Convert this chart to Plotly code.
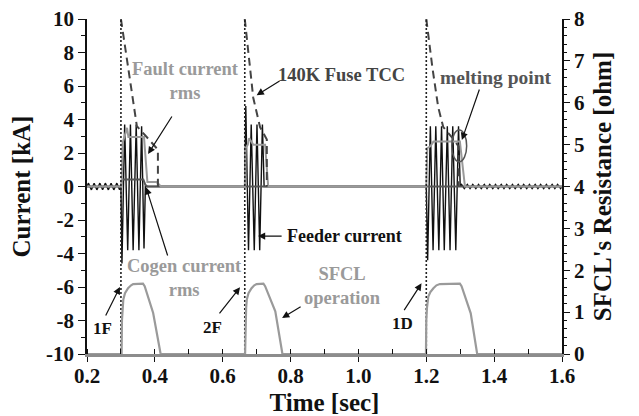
import plotly.graph_objects as go

# ---------------- data ----------------
# Feeder current [kA] (black), built from its half-cycle peaks
pre_t = [0.200, 0.204, 0.213, 0.221, 0.229, 0.238, 0.246, 0.254, 0.263, 0.271, 0.279, 0.288, 0.296]
pre_i = [0.0, 0.2, -0.2, 0.2, -0.2, 0.2, -0.2, 0.2, -0.2, 0.2, -0.2, 0.2, -0.2]

ev1_t = [0.300, 0.303, 0.311, 0.320, 0.328, 0.336, 0.345, 0.353, 0.361, 0.368, 0.372]
ev1_i = [0.0, -4.6, 3.7, -3.8, 3.7, -3.8, 3.7, -3.8, 3.6, -3.7, 0.0]

ev2_t = [0.665, 0.668, 0.676, 0.684, 0.693, 0.701, 0.709, 0.717, 0.722]
ev2_i = [0.0, 4.8, -3.8, 3.7, -3.8, 3.7, -3.8, 3.7, 0.0]

ev3_t = [1.200, 1.204, 1.212, 1.220, 1.228, 1.237, 1.245, 1.253, 1.262, 1.270, 1.278, 1.287, 1.295, 1.300]
ev3_i = [0.0, -4.4, 3.6, -3.8, 3.6, -3.8, 3.6, -3.8, 3.6, -3.8, 3.6, -3.8, 3.6, 0.0]

post_t = [1.304, 1.312, 1.321, 1.329, 1.337, 1.346, 1.354, 1.362, 1.371, 1.379, 1.387, 1.396,
          1.404, 1.412, 1.421, 1.429, 1.437, 1.446, 1.454, 1.462, 1.471, 1.479, 1.487, 1.496,
          1.504, 1.512, 1.521, 1.529, 1.537, 1.546, 1.554, 1.562, 1.571, 1.579, 1.587, 1.596, 1.600]
post_i = [0.12, -0.12, 0.12, -0.12, 0.12, -0.12, 0.12, -0.12, 0.12, -0.12, 0.12, -0.12,
          0.12, -0.12, 0.12, -0.12, 0.12, -0.12, 0.12, -0.12, 0.12, -0.12, 0.12, -0.12,
          0.12, -0.12, 0.12, -0.12, 0.12, -0.12, 0.12, -0.12, 0.12, -0.12, 0.12, -0.12, 0.0]

feeder_t = pre_t + ev1_t + ev2_t + ev3_t + post_t
feeder_i = pre_i + ev1_i + ev2_i + ev3_i + post_i

# Fault current rms [kA] (light gray)
fault_rms_t = [0.200, 0.302, 0.305, 0.318, 0.322, 0.368, 0.378, 0.405, 0.418,
               0.665, 0.668, 0.674, 0.678, 0.690, 0.725, 0.734,
               1.200, 1.203, 1.212, 1.221, 1.299, 1.314, 1.600]
fault_rms_i = [0.0, 0.0, 2.6, 3.5, 2.95, 2.95, 0.27, 0.27, 0.0,
               0.0, 2.3, 2.5, 2.88, 2.5, 2.5, 0.0,
               0.0, 2.3, 2.4, 2.68, 2.68, 0.0, 0.0]

# Cogen current rms [kA] (dark gray)
cogen_rms_t = [0.200, 0.300, 0.304, 0.366, 0.372, 0.378, 1.600]
cogen_rms_i = [0.0, 0.0, 0.42, 0.42, 0.1, 0.0, 0.0]

# 140K fuse TCC [kA] (dashed)
tcc_t = [0.300, 0.318, 0.333, 0.347, 0.365, 0.385, 0.405, 0.409, 0.409, None,
         0.665, 0.690, 0.710, 0.725, 0.730, 0.730, None,
         1.200, 1.218, 1.235, 1.250, 1.275, 1.295, 1.295]
tcc_i = [10.0, 7.5, 5.5, 3.6, 3.2, 2.75, 2.3, 2.2, 0.0, None,
         10.0, 5.3, 3.55, 2.95, 2.8, 0.0, None,
         10.0, 7.1, 4.75, 3.55, 2.95, 2.4, 0.0]

# SFCL resistance [ohm] (right axis)
sfcl_t = [0.200, 0.302, 0.303, 0.305, 0.307, 0.312, 0.321, 0.330, 0.336, 0.365, 0.370, 0.395, 0.417,
          0.666, 0.667, 0.669, 0.671, 0.676, 0.685, 0.693, 0.700, 0.720, 0.725, 0.755, 0.776,
          1.199, 1.200, 1.202, 1.206, 1.212, 1.221, 1.230, 1.240, 1.299, 1.304, 1.331, 1.350, 1.600]
sfcl_r = [0.0, 0.0, 0.8, 1.1, 1.3, 1.45, 1.57, 1.64, 1.67, 1.68, 1.62, 0.98, 0.0,
          0.0, 0.8, 1.1, 1.3, 1.45, 1.57, 1.64, 1.67, 1.68, 1.62, 1.02, 0.0,
          0.0, 0.8, 1.1, 1.37, 1.48, 1.57, 1.64, 1.67, 1.68, 1.62, 0.97, 0.0, 0.0]

# fault instants (dotted vertical markers)
fault_times = [0.300, 0.665, 1.200]

# ticks
x_tick_vals = [0.2, 0.4, 0.6, 0.8, 1.0, 1.2, 1.4, 1.6]
x_tick_text = ["0.2", "0.4", "0.6", "0.8", "1.0", "1.2", "1.4", "1.6"]
y_tick_vals = [-10, -8, -6, -4, -2, 0, 2, 4, 6, 8, 10]
y_tick_text = ["-10", "-8", "-6", "-4", "-2", "0", "2", "4", "6", "8", "10"]
y2_tick_vals = [0, 1, 2, 3, 4, 5, 6, 7, 8]
y2_tick_text = ["0", "1", "2", "3", "4", "5", "6", "7", "8"]

# ---------------- figure ----------------
FONT = "Liberation Serif"
LIGHT = "#9a9a9a"
DARK = "#555555"

fig = go.Figure()

fig.add_trace(go.Scatter(x=sfcl_t, y=sfcl_r, yaxis="y2", mode="lines",
                         line=dict(color=LIGHT, width=2.2), showlegend=False))
fig.add_trace(go.Scatter(x=feeder_t, y=feeder_i, mode="lines",
                         line=dict(color="#111111", width=1.4), showlegend=False))
fig.add_trace(go.Scatter(x=cogen_rms_t, y=cogen_rms_i, mode="lines",
                         line=dict(color=DARK, width=2), showlegend=False))
fig.add_trace(go.Scatter(x=fault_rms_t, y=fault_rms_i, mode="lines",
                         line=dict(color=LIGHT, width=2), showlegend=False))
fig.add_trace(go.Scatter(x=tcc_t, y=tcc_i, mode="lines", connectgaps=False,
                         line=dict(color="#444444", width=2, dash="8px,5px"), showlegend=False))
for ft in fault_times:
    fig.add_trace(go.Scatter(x=[ft, ft], y=[-10, 10], mode="lines",
                             line=dict(color="#222222", width=1.6, dash="2px,2px"),
                             showlegend=False))

# melting point ellipse
fig.add_shape(type="circle", xref="x", yref="y", x0=1.275, x1=1.319, y0=1.48, y1=3.37,
              line=dict(color=DARK, width=1.5))

def label(x, y, text, color, size=18.5):
    fig.add_annotation(x=x, y=y, xref="x", yref="y", text="<b>" + text + "</b>",
                       showarrow=False, font=dict(family=FONT, size=size, color=color),
                       align="center")

def arrow(x_head, y_head, x_tail, y_tail):
    fig.add_annotation(x=x_head, y=y_head, ax=x_tail, ay=y_tail, xref="x", yref="y",
                       axref="x", ayref="y", text="", showarrow=True, arrowhead=2,
                       arrowsize=1.2, arrowwidth=1.2, arrowcolor="#111111")

label(0.489, 6.30, "Fault current<br>rms", LIGHT)
arrow(0.380, 1.94, 0.453, 4.27)
label(0.949, 6.66, "140K Fuse TCC", "#444444")
arrow(0.700, 5.45, 0.772, 6.36)
label(1.404, 6.48, "melting point", DARK, 19.5)
arrow(1.305, 2.78, 1.358, 5.88)
label(0.960, -2.96, "Feeder current", "#111111", 18)
arrow(0.704, -2.96, 0.778, -2.96)
label(0.486, -5.46, "Cogen current<br>rms", LIGHT)
arrow(0.374, -0.05, 0.439, -4.21)
label(0.954, -5.94, "SFCL<br>operation", LIGHT)
arrow(0.775, -7.85, 0.834, -7.13)
label(0.247, -8.45, "1F", "#111111", 17)
arrow(0.297, -6.00, 0.253, -7.79)
label(0.571, -8.39, "2F", "#111111", 17)
arrow(0.651, -6.02, 0.587, -7.67)
label(1.129, -8.17, "1D", "#111111", 17)
arrow(1.186, -5.78, 1.132, -7.47)

tickfont = dict(family=FONT, size=21, color="#111111", weight="bold")
titlefont = dict(family=FONT, size=25, color="#111111", weight="bold")

fig.update_layout(
    width=639, height=416, autosize=False,
    margin=dict(l=87, r=77, t=19, b=62, autoexpand=False),
    paper_bgcolor="white", plot_bgcolor="white",
    showlegend=False,
    xaxis=dict(range=[0.2, 1.6], tickvals=x_tick_vals, ticktext=x_tick_text, automargin=False,
               showgrid=False, zeroline=False, showline=True, linecolor="#8c8c8c", linewidth=2.5,
               ticks="outside", ticklen=5, tickwidth=1.2, tickcolor="#111111",
               minor=dict(dtick=0.1, ticks="inside", ticklen=5, tickwidth=1.2, tickcolor="#111111", showgrid=False),
               tickfont=tickfont, ticklabelstandoff=-4,
               title=dict(text="Time [sec]", font=titlefont, standoff=7)),
    yaxis=dict(range=[-10, 10], tickvals=y_tick_vals, ticktext=y_tick_text, automargin=False,
               showgrid=False, zeroline=False, showline=True, linecolor="#111111", linewidth=1.5,
               ticks="outside", ticklen=7, tickwidth=1.2, tickcolor="#111111",
               minor=dict(dtick=1, ticks="outside", ticklen=4, tickwidth=1.2, tickcolor="#111111", showgrid=False),
               tickfont=tickfont,
               title=dict(text="Current [kA]", font=titlefont, standoff=8)),
    yaxis2=dict(range=[0, 8], overlaying="y", side="right", tickvals=y2_tick_vals, ticktext=y2_tick_text,
                automargin=False,
                showgrid=False, zeroline=False, showline=True, linecolor="#111111", linewidth=1.5,
                ticks="outside", ticklen=6, tickwidth=1.2, tickcolor="#111111",
                minor=dict(dtick=0.2, ticks="outside", ticklen=3.5, tickwidth=1, tickcolor="#111111", showgrid=False),
                tickfont=tickfont,
                title=dict(text="SFCL's Resistance [ohm]", font=titlefont, standoff=10)),
)

fig.write_html("out.html")
